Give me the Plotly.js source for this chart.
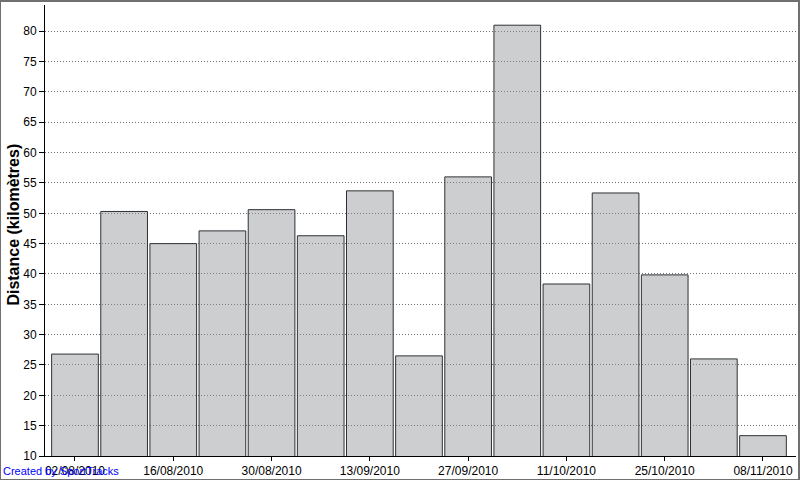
<!DOCTYPE html>
<html>
<head>
<meta charset="utf-8">
<script src="https://cdn.plot.ly/plotly-3.0.1.min.js"></script>
<style>
  html, body { margin: 0; padding: 0; background: #fff; }
  #wrap { position: relative; width: 800px; height: 480px; }
  #chart { width: 800px; height: 480px; }
  #frame { position: absolute; left: 0; top: 0; width: 797px; height: 477px;
           border-top: 2px solid #707070; border-left: 1px solid #707070;
           border-right: 2px solid #707070; border-bottom: 1px solid #707070;
           pointer-events: none; }
</style>
</head>
<body>
<div id="wrap"><div id="chart"></div><div id="frame"></div></div>
<script>
// Weekly distances (km)
const weeks = ['2010-08-02','2010-08-09','2010-08-16','2010-08-23','2010-08-30',
               '2010-09-06','2010-09-13','2010-09-20','2010-09-27','2010-10-04',
               '2010-10-11','2010-10-18','2010-10-25','2010-11-01','2010-11-08'];
const distances = [26.8, 50.3, 45.0, 47.1, 50.6, 46.3, 53.7, 26.5, 56.0, 81.0,
                   38.35, 53.35, 39.85, 26.0, 13.35];
const tickDates = ['2010-08-02','2010-08-16','2010-08-30','2010-09-13',
                   '2010-09-27','2010-10-11','2010-10-25','2010-11-08'];
const tickLabels = ['02/08/2010','16/08/2010','30/08/2010','13/09/2010',
                    '27/09/2010','11/10/2010','25/10/2010','08/11/2010'];
const yTitle = 'Distance (kilomètres)';
const credit = 'Created by SportTracks';

const DAY = 86400000;

const trace = {
  type: 'bar',
  x: weeks,
  y: distances,
  width: weeks.map(() => 6.65 * DAY),
  marker: {
    color: 'rgba(144,146,151,0.45)',
    line: { color: '#2e3133', width: 1 }
  },
  hoverinfo: 'x+y'
};

const layout = {
  width: 800, height: 480, autosize: false,
  margin: { l: 45, r: 4, t: 5, b: 24, pad: 0 },
  paper_bgcolor: '#ffffff', plot_bgcolor: '#ffffff',
  font: { family: 'Liberation Sans, Arial, sans-serif', size: 12, color: '#000' },
  showlegend: false,
  bargap: 0,
  xaxis: {
    type: 'date',
    range: ['2010-07-28 17:30', '2010-11-12 16:50'],
    tickvals: tickDates,
    ticktext: tickLabels,
    showgrid: false,
    zeroline: false,
    showline: true, linecolor: '#000', linewidth: 1,
    ticks: 'outside', ticklen: 4, tickcolor: '#000', tickwidth: 1,
    tickfont: { size: 12, color: '#000' },
    fixedrange: true
  },
  yaxis: {
    range: [10, 84.33],
    tick0: 10, dtick: 5,
    showgrid: true, gridcolor: '#707070', gridwidth: 1, griddash: '1px,2px',
    zeroline: false,
    showline: true, linecolor: '#000', linewidth: 1,
    ticks: 'outside', ticklen: 5, tickcolor: '#000', tickwidth: 1,
    tickfont: { size: 12, color: '#000' },
    fixedrange: true
  },
  annotations: [{
    text: '<b>' + yTitle + '</b>',
    xref: 'paper', yref: 'paper',
    x: -0.0413, y: 0.513, xanchor: 'center', yanchor: 'middle',
    textangle: -90, showarrow: false,
    font: { size: 16, color: '#000' }
  }, {
    text: credit,
    xref: 'paper', yref: 'paper',
    x: -0.0586, y: -0.0333, xanchor: 'left', yanchor: 'middle',
    showarrow: false,
    font: { size: 11, color: '#0000ff' }
  }]
};

Plotly.newPlot('chart', [trace], layout, { displayModeBar: false, staticPlot: true });
</script>
</body>
</html>
